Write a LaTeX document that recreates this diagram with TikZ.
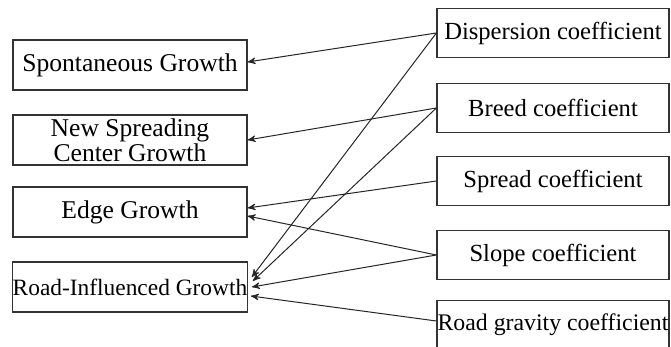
\documentclass[tikz,border=0pt]{standalone}
\usepackage{fontspec}
\setmainfont{Liberation Serif}
\usetikzlibrary{arrows}

\tikzset{
  growthbox/.style={draw=black!80, line width=0.6pt, inner sep=0pt,
    minimum width=117pt, minimum height=25pt, align=center,
    font=\fontsize{12.8}{10.8}\selectfont},
  coefbox/.style={draw=black!80, line width=0.6pt, inner sep=0pt,
    minimum width=116pt, minimum height=24.5pt,
    font=\fontsize{12.3}{14}\selectfont},
  link/.style={->, >=stealth', line width=0.5pt, black!85}
}

\begin{document}
\begin{tikzpicture}[x=0.5pt, y=-0.5pt]
  \useasboundingbox (0,0) rectangle (671,347);
  % growth types
  \node[growthbox] (sg)  at (130,65)  {Spontaneous Growth};
  \node[growthbox] (nsc) at (130,140) {New Spreading\\Center Growth};
  \node[growthbox] (eg)  at (130,212) {Edge Growth};
  \node[growthbox, font=\fontsize{11.7}{14}\selectfont] (rig) at (130,287)
	{Road-Influenced Growth};
  % coefficients
  \node[coefbox] (disp)  at (553,33)  {Dispersion coefficient};
  \node[coefbox] (breed) at (553,108) {Breed coefficient};
  \node[coefbox] (sprd)  at (553,181) {Spread coefficient};
  \node[coefbox] (slope) at (553,255) {Slope coefficient};
  \node[coefbox, font=\fontsize{11.9}{14}\selectfont] (rgrav) at (553,325)
	{Road gravity coefficient};
  \path[link]
	(disp.west) edge ([yshift=1.5pt]sg.east)
	(disp.west) edge ([xshift=2pt,yshift=5pt]rig.east)
	(breed.west) edge (nsc.east)
	(breed.west) edge ([xshift=2.5pt,yshift=3pt]rig.east)
	(sprd.west) edge ([yshift=2pt]eg.east)
	(slope.west) edge ([yshift=-2pt]eg.east)
	(slope.west) edge ([xshift=2pt]rig.east)
	([yshift=2pt]rgrav.west) edge ([xshift=1.5pt,yshift=-4.5pt]rig.east);
\end{tikzpicture}
\end{document}
